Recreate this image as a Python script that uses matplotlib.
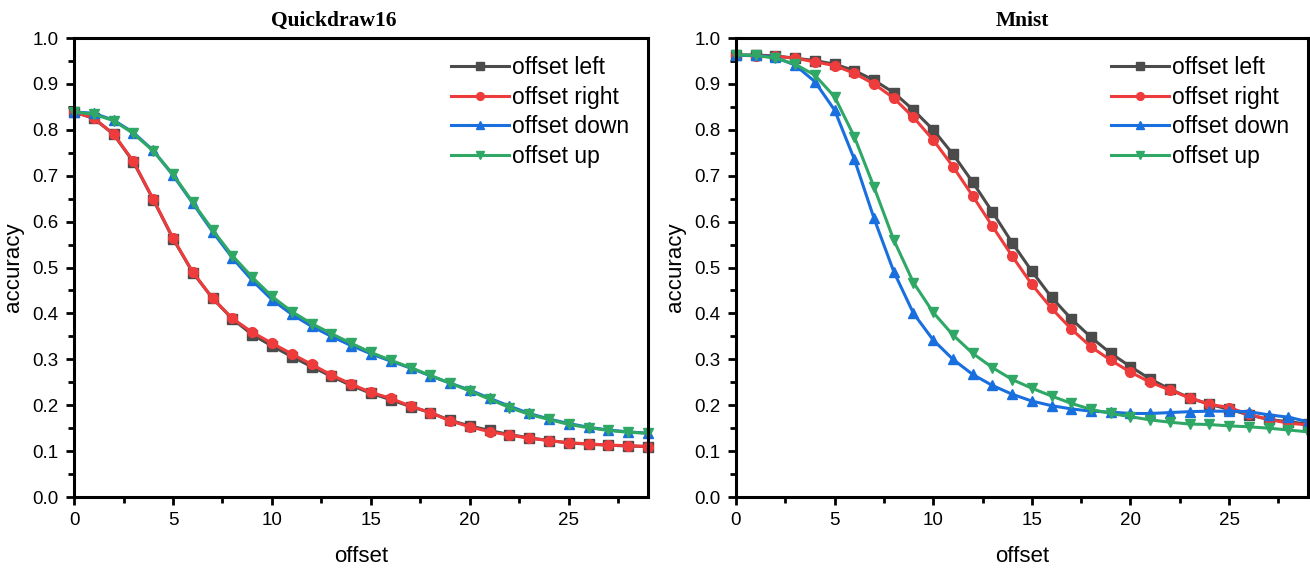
import matplotlib
matplotlib.use("Agg")
import matplotlib.pyplot as plt
from matplotlib.ticker import MultipleLocator

offsets = list(range(30))

# Quickdraw16
qd_left = [0.839, 0.825, 0.790, 0.730, 0.648, 0.563, 0.489, 0.433, 0.388, 0.354,
           0.329, 0.306, 0.284, 0.263, 0.243, 0.226, 0.212, 0.197, 0.184, 0.167,
           0.155, 0.145, 0.136, 0.129, 0.123, 0.118, 0.115, 0.113, 0.111, 0.110]
qd_right = [0.839, 0.825, 0.791, 0.731, 0.649, 0.564, 0.490, 0.433, 0.389, 0.359,
            0.335, 0.312, 0.289, 0.266, 0.246, 0.228, 0.215, 0.198, 0.184, 0.166,
            0.153, 0.142, 0.135, 0.128, 0.123, 0.118, 0.116, 0.113, 0.112, 0.110]
qd_down = [0.839, 0.836, 0.821, 0.794, 0.755, 0.701, 0.640, 0.578, 0.521, 0.472,
           0.430, 0.398, 0.372, 0.350, 0.330, 0.312, 0.296, 0.281, 0.264, 0.248,
           0.233, 0.215, 0.198, 0.182, 0.170, 0.160, 0.152, 0.146, 0.142, 0.139]
qd_up = [0.839, 0.834, 0.820, 0.792, 0.754, 0.703, 0.642, 0.582, 0.526, 0.479,
         0.437, 0.404, 0.378, 0.356, 0.335, 0.315, 0.298, 0.282, 0.265, 0.248,
         0.231, 0.213, 0.195, 0.180, 0.169, 0.158, 0.151, 0.145, 0.141, 0.139]

# Mnist
mn_left = [0.963, 0.963, 0.961, 0.956, 0.951, 0.943, 0.929, 0.908, 0.881, 0.843,
           0.800, 0.747, 0.686, 0.621, 0.554, 0.492, 0.435, 0.388, 0.348, 0.313,
           0.284, 0.257, 0.235, 0.216, 0.202, 0.191, 0.179, 0.169, 0.164, 0.159]
mn_right = [0.963, 0.961, 0.960, 0.956, 0.948, 0.940, 0.923, 0.900, 0.869, 0.827,
            0.778, 0.720, 0.656, 0.590, 0.525, 0.463, 0.411, 0.366, 0.327, 0.298,
            0.272, 0.250, 0.233, 0.216, 0.202, 0.195, 0.180, 0.169, 0.161, 0.157]
mn_down = [0.962, 0.962, 0.958, 0.941, 0.905, 0.843, 0.736, 0.607, 0.491, 0.400,
           0.342, 0.300, 0.267, 0.243, 0.224, 0.209, 0.199, 0.192, 0.187, 0.185,
           0.182, 0.182, 0.184, 0.186, 0.187, 0.187, 0.186, 0.179, 0.174, 0.164]
mn_up = [0.963, 0.962, 0.956, 0.943, 0.919, 0.872, 0.785, 0.675, 0.560, 0.467,
         0.402, 0.353, 0.313, 0.282, 0.256, 0.237, 0.220, 0.204, 0.191, 0.182,
         0.175, 0.168, 0.163, 0.159, 0.158, 0.155, 0.153, 0.150, 0.146, 0.142]

labels = ["offset left", "offset right", "offset down", "offset up"]
colors = ["#4b4b4b", "#ee3b3b", "#1a6fdf", "#2fa866"]
markers = ["s", "o", "^", "v"]

plt.rcParams["font.family"] = ["Liberation Sans", "DejaVu Sans"]

fig = plt.figure(figsize=(13.1, 5.69), dpi=100)
ax1 = fig.add_axes([0.0565, 0.1265, 0.4382, 0.8067])
ax2 = fig.add_axes([0.5618, 0.1265, 0.4367, 0.8067])


def draw(ax, title, series, title_x=0.5):
    for ys, lab, c, m in zip(series, labels, colors, markers):
        ax.plot(offsets, ys, color=c, marker=m, markersize=7, linewidth=2.2,
                label=lab, clip_on=False)
    ax.set_xlim(0, 29)
    ax.set_ylim(0, 1.0)
    ax.xaxis.set_major_locator(MultipleLocator(5))
    ax.xaxis.set_minor_locator(MultipleLocator(2.5))
    ax.yaxis.set_major_locator(MultipleLocator(0.1))
    ax.yaxis.set_minor_locator(MultipleLocator(0.05))
    ax.tick_params(which="both", direction="out", width=2, labelsize=13.5,
                   top=False, right=False, pad=5)
    ax.tick_params(which="major", length=6)
    ax.tick_params(which="minor", length=4)
    for s in ax.spines.values():
        s.set_linewidth(2.2)
    ax.set_xlabel("offset", fontsize=16, labelpad=12)
    ax.set_ylabel("accuracy", fontsize=16, labelpad=6)
    ax.set_title(title, fontsize=15.5, fontweight="bold", x=title_x,
                 family=["Liberation Serif", "DejaVu Serif"], pad=9)
    ax.legend(loc="upper right", frameon=False, fontsize=16.5, handlelength=2.5,
              handletextpad=0.15, labelspacing=0.3, borderaxespad=0.17,
              markerscale=0.8, bbox_to_anchor=(0.99, 0.99))


draw(ax1, "Quickdraw16", [qd_left, qd_right, qd_down, qd_up], title_x=0.453)
draw(ax2, "Mnist", [mn_left, mn_right, mn_down, mn_up])

fig.savefig("out.png", dpi=100)
